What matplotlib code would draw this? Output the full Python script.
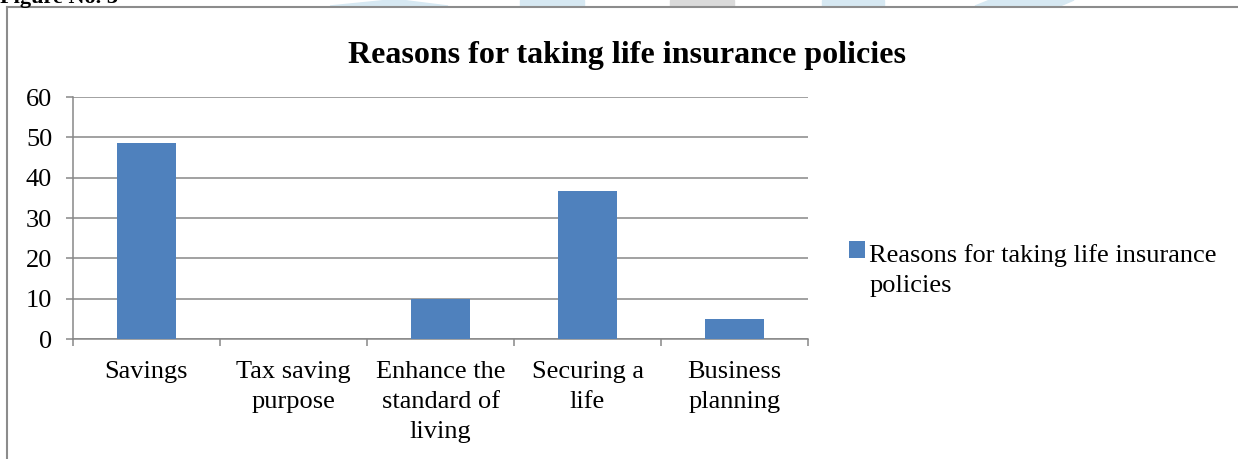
import matplotlib.pyplot as plt
from matplotlib.container import BarContainer
from matplotlib.legend_handler import HandlerPatch, update_from_first_child
from matplotlib.lines import Line2D
from matplotlib.patches import Polygon, Rectangle

# Данные диаграммы
categories = ['Savings', 'Tax saving\npurpose', 'Enhance the\nstandard of\nliving',
              'Securing a\nlife', 'Business\nplanning']
values = [48.7, 0, 9.8, 36.6, 4.9]
series_name = 'Reasons for taking life insurance\npolicies'
title = 'Reasons for taking life insurance policies'

W, H = 1238, 459
bar_color = '#4f81bd'
grid_color = '#878787'
fs = 19
spacing = 1.45

plt.rcParams['font.family'] = ['Liberation Serif', 'DejaVu Serif']

fig = plt.figure(figsize=(W / 100, H / 100), dpi=100)
ax = fig.add_axes([73 / W, 1 - 339 / H, (808 - 73) / W, (339 - 97) / H])

x = list(range(len(categories)))
ax.bar(x, values, width=0.4, color=bar_color, zorder=3,
       label=series_name)

ax.set_xlim(-0.5, len(categories) - 0.5)
ax.set_ylim(0, 60)
ax.set_yticks(range(0, 61, 10))
ax.grid(axis='y', color=grid_color, linewidth=1.1, zorder=0)

for side in ['top', 'right']:
    ax.spines[side].set_visible(False)
for side in ['left', 'bottom']:
    ax.spines[side].set_color(grid_color)
    ax.spines[side].set_linewidth(1.1)

# подписи категорий по центру, засечки по границам категорий
ax.set_xticks(x)
ax.set_xticklabels(categories, fontsize=fs, linespacing=spacing,
                   multialignment='center')
ax.set_xticks([i - 0.5 for i in range(len(categories) + 1)], minor=True)
ax.tick_params(axis='x', which='major', length=0, pad=16)
ax.tick_params(axis='x', which='minor', length=5, width=1.1, color=grid_color)
ax.tick_params(axis='y', length=5, width=1.1, color=grid_color, pad=10,
               labelsize=fs)

fig.text(627 / W, 1 - 55 / H, title, fontsize=23, fontweight='bold',
         ha='center', va='center')


# квадратик легенды на уровне первой строки подписи
def square_first_line(legend, orig_handle, xdescent, ydescent, width, height, fontsize):
    shift = 0.75 * fontsize
    return Rectangle((-xdescent, -ydescent + shift), width, height)


leg = ax.legend(loc='upper left', bbox_to_anchor=(849 / W, 1 - 244 / H),
                bbox_transform=fig.transFigure, frameon=False, fontsize=fs,
                handlelength=0.62, handleheight=0.62, handletextpad=0.15,
                borderpad=0, borderaxespad=0,
                handler_map={BarContainer: HandlerPatch(
                    patch_func=square_first_line,
                    update_func=update_from_first_child)})
leg.get_texts()[0].set_linespacing(spacing)

# рамка области диаграммы
box = dict(color='#8c8c8c', linewidth=1.5, transform=fig.transFigure)
fig.add_artist(Line2D([7 / W, 7 / W], [0, 1 - 7 / H], **box))
fig.add_artist(Line2D([7 / W, 1], [1 - 7 / H, 1 - 7 / H], **box))

# обрезанный заголовок страницы и фон сверху
fig.text(0, 1 - 3 / H, 'Figure No. 3', fontsize=16, fontweight='bold',
         ha='left', va='baseline')
stripes = [(330, 390, 400, 448, '#d6e8f2'), (520, 520, 584, 584, '#d6e8f2'),
           (670, 670, 734, 734, '#dadada'), (822, 822, 884, 884, '#d6e8f2'),
           (975, 990, 1074, 1060, '#d6e8f2')]
for x0, x1, x2, x3, c in stripes:
    fig.add_artist(Polygon([(x0 / W, 1 - 6 / H), (x1 / W, 1), (x2 / W, 1),
                            (x3 / W, 1 - 6 / H)], closed=True, color=c,
                           transform=fig.transFigure, zorder=-1))

fig.savefig('out.png', dpi=100, facecolor='white')
